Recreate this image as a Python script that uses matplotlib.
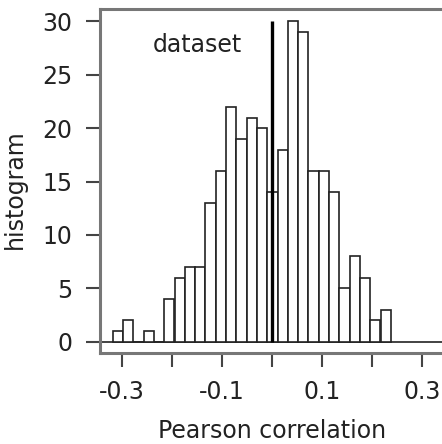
import numpy as np
import matplotlib
matplotlib.use("Agg")
import matplotlib.pyplot as plt

plt.rcParams['font.family'] = ['DejaVu Sans']

# histogram of correlations (counts per bin)
counts = [1, 2, 0, 1, 0, 4, 6, 7, 7, 13, 16, 22, 19, 21, 20,
          14, 18, 30, 29, 16, 16, 14, 5, 8, 6, 2, 3]
bin_start = -0.3186
bin_end = 0.2376
dataset_value = 0.0
dataset_label = "dataset"
xticks = [-0.3, -0.2, -0.1, 0.0, 0.1, 0.2, 0.3]
xtick_labels = ["-0.3", "", "-0.1", "", "0.1", "", "0.3"]
yticks = [0, 5, 10, 15, 20, 25, 30]

edges = np.linspace(bin_start, bin_end, len(counts) + 1)

fig = plt.figure(figsize=(4.42, 4.44), dpi=100)
ax = fig.add_axes([100 / 442, (444 - 353.3) / 444, 342 / 442, 344.3 / 444])

ax.bar(edges[:-1], counts, width=np.diff(edges), align='edge',
       color='white', edgecolor='#222222', linewidth=1.2, zorder=2)
ax.axhline(0, color='#222222', linewidth=1.2, zorder=1)
ax.vlines(dataset_value, 0, max(counts), color='black', linewidth=2.4, zorder=3)
ax.text(dataset_value - 0.06, 27.8, dataset_label, ha='right', va='center',
        fontsize=17, color='#222222')

ax.set_xlim(-0.344, 0.34)
ax.set_ylim(-1.1, 31.17)
ax.set_xticks(xticks)
ax.set_xticklabels(xtick_labels)
ax.set_yticks(yticks)

for side in ['left', 'top', 'bottom']:
    ax.spines[side].set_color('#777777')
    ax.spines[side].set_linewidth(2.2)
ax.spines['right'].set_visible(False)
ax.tick_params(length=10, width=1.5, color='#444444', labelsize=17,
               labelcolor='#222222')
ax.tick_params(axis='x', pad=9)
ax.tick_params(axis='y', pad=10)

ax.set_xlabel("Pearson correlation", fontsize=17, color='#222222')
ax.set_ylabel("histogram", fontsize=17, color='#222222')
ax.xaxis.set_label_coords(0.504, -0.19)
ax.yaxis.set_label_coords(-0.214, 0.477)

fig.savefig("out.png", dpi=100)
